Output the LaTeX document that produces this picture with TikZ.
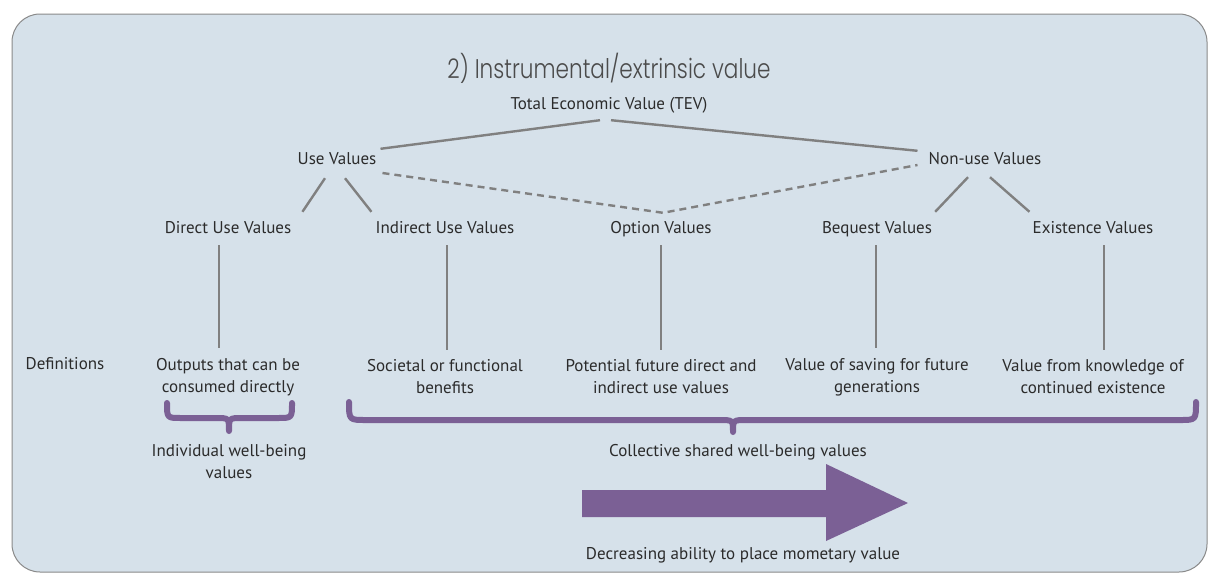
\documentclass[tikz,border=0pt]{standalone}
\usepackage{fontspec}
\setmainfont{PT Sans}
\newfontfamily\titlefont{Poppins Light}[FakeStretch=0.8]
\definecolor{panel}{HTML}{D6E1EA}
\definecolor{edge}{HTML}{8A8A8A}
\definecolor{ink}{HTML}{2B2B2B}
\definecolor{conncol}{HTML}{808080}
\definecolor{purp}{HTML}{7B6095}
\begin{document}
\begin{tikzpicture}[x=1pt,y=-1pt,
 lab/.style={font=\fontsize{17}{22}\selectfont, text=ink, inner sep=0pt, align=center, text height=12pt, text depth=4pt},
 mlab/.style={font=\fontsize{17}{22}\selectfont, text=ink, inner sep=0pt, align=center},
 conn/.style={draw=conncol, line width=2.4pt},
 dconn/.style={conn, dash pattern=on 7pt off 5pt},
 brace/.style={draw=purp, line width=6pt, line cap=round, line join=round},
]
\useasboundingbox (0,0) rectangle (1209,573);
\fill[white] (0,0) rectangle (1209,573);
\draw[fill=panel, draw=edge, line width=1pt, rounded corners=28pt] (12,14) rectangle (1207,572);

\node[font=\titlefont\fontsize{27}{30}\selectfont, text=ink!85, inner sep=0pt] (title) at (609,68) {2) Instrumental/extrinsic value};
\node[lab] (tev) at (609,105) {Total Economic Value (TEV)};
\node[lab] (use) at (337,160) {Use Values};
\node[lab] (nonuse) at (985,160) {Non-use Values};
\node[lab] (direct) at (228,229) {Direct Use Values};
\node[lab] (indirect) at (445,229) {Indirect Use Values};
\node[lab] (option) at (661,229) {Option Values};
\node[lab] (bequest) at (877,229) {Bequest Values};
\node[lab] (exist) at (1093,229) {Existence Values};

\node[lab] (defs) at (65,365) {Definitions};
\node[mlab] (ddirect) at (228,377) {Outputs that can be\\consumed directly};
\node[mlab] (dindirect) at (445,377) {Societal or functional\\benefits};
\node[mlab] (doption) at (661,377) {Potential future direct and\\indirect use values};
\node[mlab] (dbequest) at (877,377) {Value of saving for future\\generations};
\node[mlab] (dexist) at (1093,377) {Value from knowledge of\\continued existence};

\node[mlab] (indiv) at (229,462) {Individual well-being\\values};
\node[lab] (coll) at (738,452) {Collective shared well-being values};
\node[lab] (decr) at (743,555) {Decreasing ability to place mometary value};

% tree connectors
\draw[conn] ([shift={(4,-3)}]use.north east) -- ([shift={(-9,7)}]tev.south);
\draw[conn] ([shift={(2,7)}]tev.south) -- ([shift={(-11,-1)}]nonuse.north west);
\draw[conn] ([shift={(-12,10)}]use.south) -- ([shift={(11,-9)}]direct.north east);
\draw[conn] ([shift={(8,10)}]use.south) -- ([shift={(-4,-9)}]indirect.north west);
\draw[dconn] ([shift={(6,13)}]use.east) -- ([shift={(2,-8)}]option.north) -- ([shift={(-11,5)}]nonuse.west);
\draw[conn] ([shift={(-17,9)}]nonuse.south) -- ([shift={(3,-9)}]bequest.north east);
\draw[conn] ([shift={(5,9)}]nonuse.south) -- ([shift={(-3,-9)}]exist.north west);

% vertical connectors
\draw[conn] ([shift={(-9,8)}]direct.south) -- ([shift={(-9,-10)}]ddirect.north);
\draw[conn] ([shift={(2,8)}]indirect.south) -- ([shift={(2,-10)}]dindirect.north);
\draw[conn] ([shift={(0,8)}]option.south) -- ([shift={(0,-10)}]doption.north);
\draw[conn] ([shift={(-1,8)}]bequest.south) -- ([shift={(-1,-10)}]dbequest.north);
\draw[conn] ([shift={(11,8)}]exist.south) -- ([shift={(11,-10)}]dexist.north);

% braces
\draw[brace] (167,403) .. controls (167,418) .. (181,418) -- (216,418)
  .. controls (229,418) .. (229,431) .. controls (229,418) .. (242,418)
  -- (278,418) .. controls (292,418) .. (292,403);
\draw[brace] (349,402) .. controls (349,420) .. (366,420) -- (719,420)
  .. controls (733,420) .. (733,432) .. controls (733,420) .. (747,420)
  -- (1180,420) .. controls (1196,420) .. (1196,402);

% arrow
\fill[purp] (582,490) -- (826,490) -- (826,464) -- (908,503) -- (826,541) -- (826,517) -- (582,517) -- cycle;
\end{tikzpicture}
\end{document}
